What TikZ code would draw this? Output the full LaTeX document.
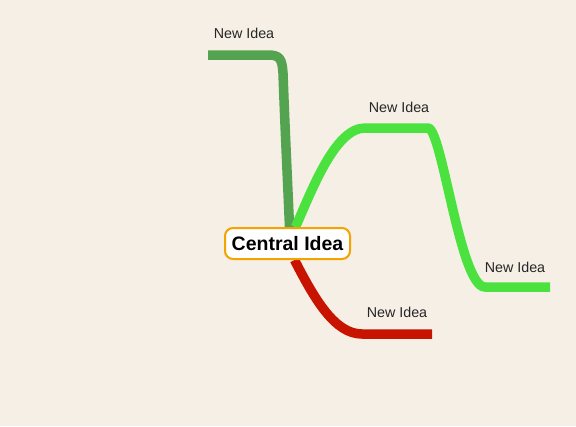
\documentclass[tikz,border=0pt]{standalone}
\usepackage{fontspec}
\setmainfont{Liberation Sans}
\usetikzlibrary{backgrounds}
\definecolor{bgc}{HTML}{F5EFE5}
\definecolor{dgreen}{HTML}{53A351}
\definecolor{bgreen}{HTML}{4BE23F}
\definecolor{bred}{HTML}{C81300}
\definecolor{borange}{HTML}{F5A300}
\tikzset{
  branch/.style={line width=9.5pt, line cap=butt, line join=round},
  idea/.style={font=\fontsize{14.3}{15}\selectfont, text=black!85, inner sep=0pt},
  central/.style={draw=borange, line width=2pt, fill=white, rounded corners=8pt,
    minimum width=125pt, minimum height=31pt, inner sep=0pt,
    font=\bfseries\fontsize{19.5}{20}\selectfont}
}
\begin{document}
\begin{tikzpicture}[x=1pt,y=-1pt]
\useasboundingbox (0,0) rectangle (576,426);
\node[central] (c) at (287.5,243.5) {Central Idea};
\node[idea] (l1) at (244,33) {New Idea};
\node[idea] (l2) at (399,107) {New Idea};
\node[idea] (l3) at (515,267) {New Idea};
\node[idea] (l4) at (397,312) {New Idea};
\coordinate (e1) at (208,55);
\coordinate (e2) at (432,128);
\coordinate (e3) at (550,287);
\coordinate (e4) at (432,334);
\begin{pgfonlayer}{background}
\fill[bgc] (0,0) rectangle (576,426);
\draw[branch, dgreen] ([xshift=2pt]c.north) .. controls (288,190) and (285,130) .. (283,73)
  .. controls (282,59) and (280,55) .. (268,55) -- (e1);
\draw[branch, bgreen] ([xshift=8pt]c.north) .. controls (312,190) and (335,128) .. (365,128)
  -- (428,128) .. controls (442,128) and (460,287) .. (485,287) -- (e3);
\draw[branch, bred] ([xshift=7pt]c.south) .. controls (315,300) and (335,334) .. (362,334) -- (e4);
\end{pgfonlayer}
\end{tikzpicture}
\end{document}
